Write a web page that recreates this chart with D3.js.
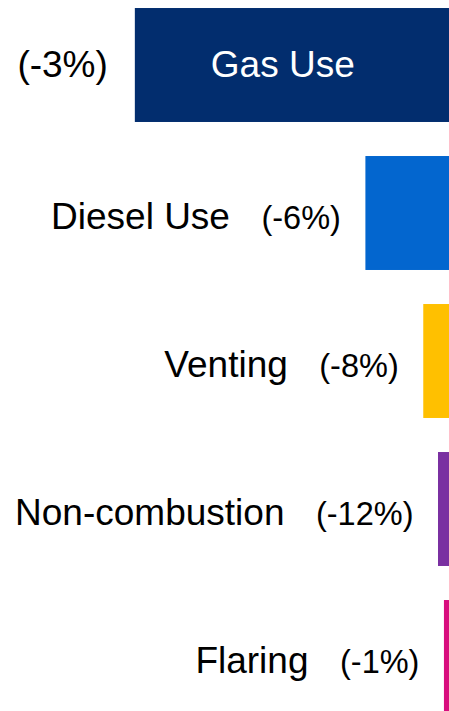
<!DOCTYPE html>
<html>
<head>
<meta charset="utf-8">
<script src="https://cdn.jsdelivr.net/npm/d3@7"></script>
<style>
  html, body { margin: 0; padding: 0; background: #ffffff; }
  svg { display: block; }
  text { font-family: "Liberation Sans", Arial, sans-serif; }
</style>
</head>
<body>
<svg id="chart" width="449" height="711"></svg>
<script>
// Data (share of emissions, %, and change labels)
const categories = ["Gas Use", "Diesel Use", "Venting", "Non-combustion", "Flaring"];
const shares = [71.4, 19.0, 5.85, 2.5, 1.15];
const changes = ["(-3%)", "(-6%)", "(-8%)", "(-12%)", "(-1%)"];
const colors = ["#022d6e", "#0366cf", "#ffc000", "#7a30a1", "#d80d7e"];

const W = 449, H = 711;
const svg = d3.select("#chart");

const x = d3.scaleLinear().domain([0, 100]).range([0, 440]);
const y = d3.scaleBand().domain(categories).range([-9, 731]).paddingInner(0.23).paddingOuter(0.115);

const rows = categories.map((c, i) => ({ cat: c, v: shares[i], chg: changes[i], col: colors[i], i }));

const g = svg.selectAll("g.row").data(rows).join("g").attr("class", "row");

g.append("rect")
  .attr("x", d => W - x(d.v))
  .attr("y", d => y(d.cat))
  .attr("width", d => x(d.v))
  .attr("height", y.bandwidth())
  .attr("fill", d => d.col);

// First (largest) row: label inside bar, change to the left
const firstG = g.filter(d => d.i === 0);
firstG.append("text")
  .attr("x", d => W - x(d.v) + 76)
  .attr("y", d => y(d.cat) + y.bandwidth() / 2 + 11.5)
  .attr("fill", "#ffffff")
  .attr("font-size", 37)
  .text(d => d.cat);
firstG.append("text")
  .attr("x", d => W - x(d.v) - 27)
  .attr("y", d => y(d.cat) + y.bandwidth() / 2 + 12)
  .attr("text-anchor", "end")
  .attr("fill", "#000000")
  .attr("font-size", 37)
  .text(d => d.chg);

// Other rows: change right-aligned left of bar, label left of that
const rest = g.filter(d => d.i > 0);
rest.each(function(d) {
  const sel = d3.select(this);
  const barLeft = W - x(d.v);
  const base = y(d.cat) + y.bandwidth() / 2 + 15.5;
  const pct = sel.append("text")
    .attr("x", barLeft - 24.5)
    .attr("y", base)
    .attr("text-anchor", "end")
    .attr("fill", "#000000")
    .attr("font-size", 32.5)
    .text(d.chg);
  const pctW = pct.node().getComputedTextLength();
  sel.append("text")
    .attr("x", barLeft - 24.5 - pctW - 31.5)
    .attr("y", base)
    .attr("text-anchor", "end")
    .attr("fill", "#000000")
    .attr("font-size", 37)
    .text(d.cat);
});
</script>
</body>
</html>
